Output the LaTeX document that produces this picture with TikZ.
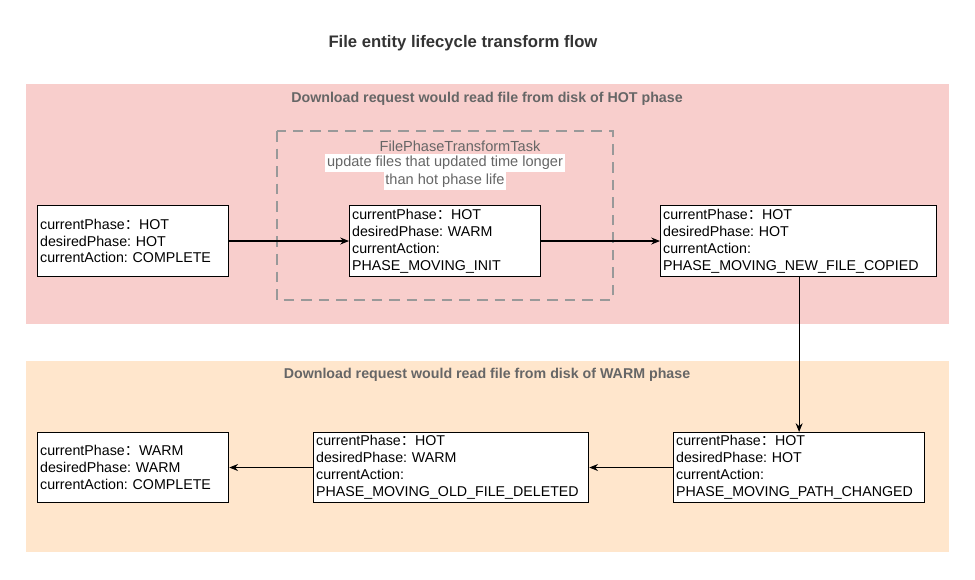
\documentclass[tikz,border=0pt]{standalone}
\usepackage{fontspec}
\setmainfont{Liberation Sans}
\newfontfamily\cjk{Noto Sans CJK SC}
\usetikzlibrary{arrows.meta}
\definecolor{hotband}{HTML}{F8CECC}
\definecolor{warmband}{HTML}{FFE6CC}
\definecolor{headgray}{HTML}{666666}
\newcommand{\fcolon}{{\cjk ：}}
\frenchspacing
\begin{document}
\begin{tikzpicture}[x=0.02cm,y=-0.02cm,
  state/.style={draw=black,fill=white,semithick,align=left,inner sep=1.5pt,
    font=\fontsize{8.1}{9.6}\selectfont,anchor=north west},
  band/.style={fill=#1,draw=none},
  flow/.style={-{Stealth[length=5pt,width=4pt]},semithick}]
\useasboundingbox (0,0) rectangle (975,579);
\node[font=\bfseries\fontsize{9.5}{11}\selectfont,text=black!80] (title) at (463,43) {File entity lifecycle transform flow};
% phase bands
\fill[band=hotband] (26,84) rectangle (949,324);
\fill[band=warmband] (26,361) rectangle (949,552);
\node[font=\bfseries\fontsize{8.1}{9}\selectfont,text=headgray] (hothead) at (487,99) {Download request would read file from disk of HOT phase};
\node[font=\bfseries\fontsize{8.1}{9}\selectfont,text=headgray] (warmhead) at (487,375) {Download request would read file from disk of WARM phase};
% transform task
\draw[draw=gray!80,very thick,dash pattern=on 6pt off 4pt] (277,131) rectangle (613,300);
\node[font=\fontsize{8.3}{9}\selectfont,text=headgray] (task) at (460,146) {FilePhaseTransformTask};
\node[font=\fontsize{8.3}{9}\selectfont,text=headgray,fill=white,inner sep=1pt] (taskline1) at (445,163) {update files that updated time longer};
\node[font=\fontsize{8.3}{9}\selectfont,text=headgray,fill=white,inner sep=1pt] (taskline2) at (445,181) {than hot phase life};
% states
\node[state,text width=3.72cm,minimum height=1.42cm] (hotdone) at (37,205)
  {currentPhase\fcolon HOT\\desiredPhase: HOT\\currentAction: COMPLETE};
\node[state,text width=3.72cm,minimum height=1.42cm] (init) at (349,205)
  {currentPhase\fcolon HOT\\desiredPhase: WARM\\currentAction:\\PHASE\_MOVING\_INIT};
\node[state,text width=5.42cm,minimum height=1.42cm] (copied) at (660,205)
  {currentPhase\fcolon HOT\\desiredPhase: HOT\\currentAction:\\PHASE\_MOVING\_NEW\_FILE\_COPIED};
\node[state,text width=4.92cm,minimum height=1.4cm] (changed) at (673,432)
  {currentPhase\fcolon HOT\\desiredPhase: HOT\\currentAction:\\PHASE\_MOVING\_PATH\_CHANGED};
\node[state,text width=5.4cm,minimum height=1.4cm] (deleted) at (313,432)
  {currentPhase\fcolon HOT\\desiredPhase: WARM\\currentAction:\\PHASE\_MOVING\_OLD\_FILE\_DELETED};
\node[state,text width=3.72cm,minimum height=1.4cm] (warmdone) at (37,432)
  {currentPhase\fcolon WARM\\desiredPhase: WARM\\currentAction: COMPLETE};
% transitions
\draw[flow] (hotdone) -- (init);
\draw[flow] (init) -- (copied);
\draw[flow] (copied.south -| changed.north) -- (changed.north);
\draw[flow] (changed) -- (deleted);
\draw[flow] (deleted) -- (warmdone);
\end{tikzpicture}
\end{document}
